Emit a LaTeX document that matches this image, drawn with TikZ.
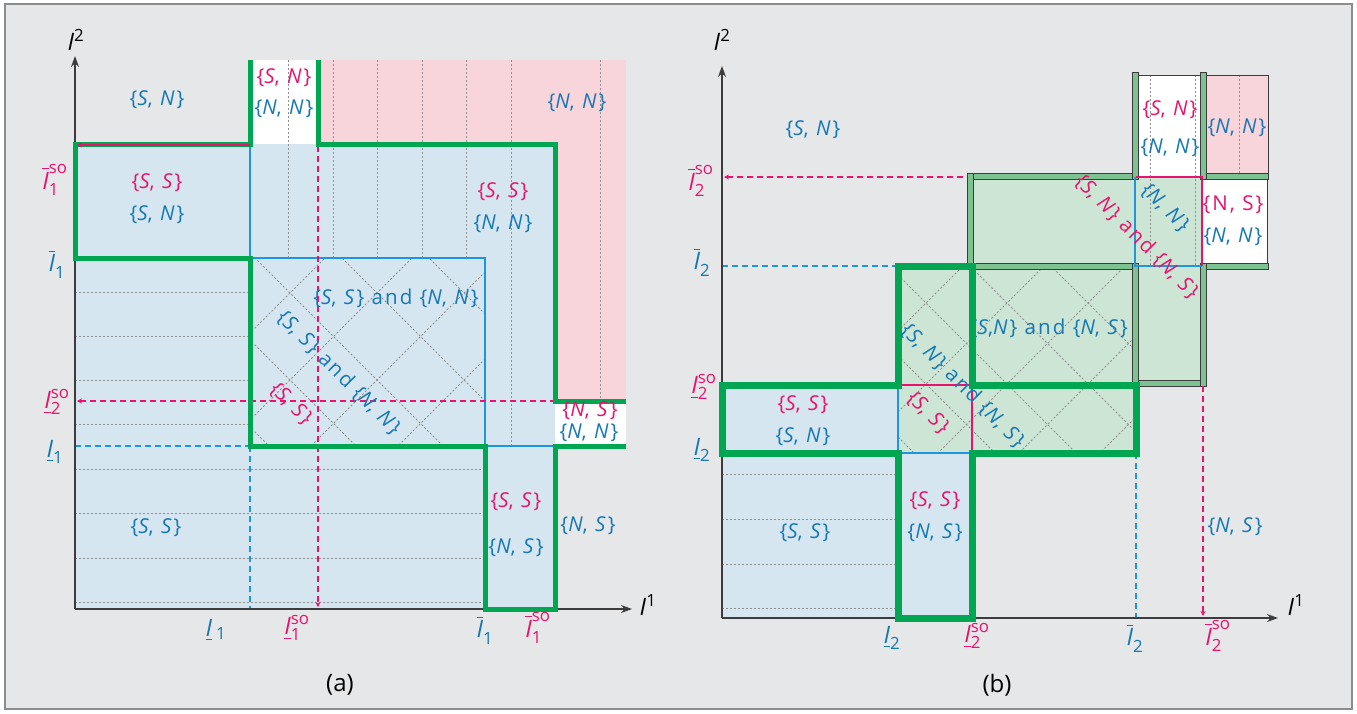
\documentclass[tikz,border=0pt]{standalone}
\usepackage{fontspec}
\usepackage{amsmath}
\setmainfont{Open Sans}
\newfontfamily\tfam[LetterSpace=10]{Open Sans}
\usetikzlibrary{arrows.meta}
\definecolor{bggray}{HTML}{E6E7E9}
\definecolor{framegray}{HTML}{8A8C8E}
\definecolor{lblue}{HTML}{D6E6F0}
\definecolor{lpink}{HTML}{F8D4DB}
\definecolor{lgreen}{HTML}{CCE5D4}
\definecolor{wallg}{HTML}{7DC391}
\definecolor{gthk}{HTML}{00A651}
\definecolor{lineb}{HTML}{1E96DC}
\definecolor{tblue}{HTML}{1478B4}
\definecolor{tpink}{HTML}{E6146E}
\definecolor{dgray}{HTML}{3C3C3C}
\definecolor{dotc}{HTML}{8F8F8F}
\newcommand{\pr}[2]{\{\textit{#1}, \textit{#2}\}}
\newcommand{\Iob}[2]{$\overline{\text{\itshape I}}^{\text{#2}}_{\text{#1}}$}
\newcommand{\Iub}[2]{$\underline{\text{\itshape I}}^{\text{#2}}_{\text{#1}}$}
\newcommand{\tfnt}{\tfam\fontsize{20.5}{22}\selectfont}
\newcommand{\lfnt}{\fontsize{24}{26}\selectfont}
\tikzset{
 dotg/.style={dotc, line width=0.9pt, dash pattern=on 2pt off 2pt},
 bline/.style={lineb, line width=2pt},
 pline/.style={tpink, line width=2.5pt},
 bdash/.style={lineb, line width=2.5pt, dash pattern=on 6pt off 4pt},
 pdash/.style={tpink, line width=2.5pt, dash pattern=on 6pt off 4pt},
 parrs/.style={arrows={Stealth[length=5pt,width=5pt]-}},
 parre/.style={arrows={-Stealth[length=5pt,width=5pt]}},
 gthick/.style={gthk, line width=5pt, line join=miter},
 gthickb/.style={gthk, line width=7pt, line join=miter},
 axisl/.style={dgray, line width=1.5pt, -{Stealth[length=11pt,width=8pt]}},
 wall/.style={fill=wallg, draw=dgray, line width=1pt},
 tb/.style={text=tblue, font=\tfnt, inner sep=0pt},
 tp/.style={text=tpink, font=\tfnt, inner sep=0pt},
 lb/.style={text=tblue, font=\lfnt, inner sep=0pt},
 lp/.style={text=tpink, font=\lfnt, inner sep=0pt},
 lk/.style={text=black, font=\lfnt, inner sep=0pt},
}
\begin{document}
\begin{tikzpicture}[x=1pt,y=-1pt]
\useasboundingbox (0,0) rectangle (1357,713);
\fill[white] (0,0) rectangle (1357,713);
\draw[framegray, fill=bggray, line width=1.5pt] (5,4) rectangle (1352,709);

% ================= panel (a) =================
\fill[lblue] (75,144) rectangle (555,609);
\fill[white] (250,60) rectangle (318,144);
\fill[lpink] (318,60) rectangle (626,144);
\fill[lpink] (555,144) rectangle (626,401);
\fill[white] (555,401) rectangle (626,446);

\foreach \x in {288,333,377,422,466} \draw[dotg] (\x,60) -- (\x,258);
\draw[dotg] (511,60) -- (511,446);
\draw[dotg] (600,60) -- (600,401);
\foreach \y in {292,336,380,424} \draw[dotg] (75,\y) -- (250,\y);
\foreach \y in {469,513,558,602} \draw[dotg] (75,\y) -- (485,\y);
\begin{scope}
\clip (250,258) rectangle (485,446);
\foreach \d in {-264,-177,-90,-3,84,171,258} \draw[dotg] (150,{150-(\d)}) -- (600,{600-(\d)});
\foreach \e in {496,583,670,757,844,931} \draw[dotg] (150,{\e-150}) -- (600,{\e-600});
\end{scope}

\draw[bline] (250,144) -- (250,258);
\draw[bline] (250,258) -- (485,258) -- (485,446) -- (555,446);
\draw[bdash] (75,446) -- (250,446);
\draw[bdash] (250,446) -- (250,609);
\draw[pdash, parre] (318,146) -- (318,607);
\draw[pdash, parrs] (77,401) -- (555,401);

\draw[axisl] (75,609) -- (75,56);
\draw[axisl] (75,609) -- (632,609);

\draw[gthick] (250,60) -- (250,144) -- (75,144) -- (75,258) -- (250,258) -- (250,446) -- (485,446) -- (485,609) -- (555,609) -- (555,446) -- (626,446);
\draw[gthick] (318,60) -- (318,144) -- (555,144) -- (555,401) -- (626,401);
\draw[pline, parrs] (77,145) -- (250,145);

\node[tb] (a1) at (157,100) {\pr{S}{N}};
\node[tp] (a2) at (284,78) {\pr{S}{N}};
\node[tb] (a3) at (284,109) {\pr{N}{N}};
\node[tb] (a4) at (577,103) {\pr{N}{N}};
\node[tp] (a5) at (157,183) {\pr{S}{S}};
\node[tb] (a6) at (157,215) {\pr{S}{N}};
\node[tp] (a7) at (503,192) {\pr{S}{S}};
\node[tb] (a8) at (503,224) {\pr{N}{N}};
\node[tb] (a9) at (396,298) {\pr{S}{S} and \pr{N}{N}};
\node[tb, rotate=-45] (a10) at (339,373) {\pr{S}{S} and \pr{N}{N}};
\node[tp, rotate=-45] (a11) at (291,404) {\pr{S}{S}};
\node[tp] (a12) at (590,411) {\pr{N}{S}};
\node[tb] (a13) at (589,433) {\pr{N}{N}};
\node[tb] (a14) at (156,528) {\pr{S}{S}};
\node[tp] (a15) at (516,502) {\pr{S}{S}};
\node[tb] (a16) at (516,548) {\pr{N}{S}};
\node[tb] (a17) at (588,526) {\pr{N}{S}};

\node[lk] (ay) at (76,40) {\textit{I}$^{\text{2}}$};
\node[lk] (ax) at (648,605) {\textit{I}$^{\text{1}}$};
\node[lp] (al1) at (55,180) {\Iob{1}{so}};
\node[lb] (al2) at (57,264) {\Iob{1}{}};
\node[lp] (al3) at (57,402) {\Iub{2}{so}};
\node[lb] (al4) at (55,452) {\Iub{1}{}};
\node[lb] (ab1) at (216,630) {$\underline{\text{\itshape I}}$\,$_{\text{1}}$};
\node[lp] (ab2) at (297,628) {\Iub{1}{so}};
\node[lb] (ab3) at (485,630) {\Iob{1}{}};
\node[lp] (ab4) at (538,628) {\Iob{1}{so}};
\node[lk] (capa) at (340,685) {(a)};

% ================= panel (b) =================
\fill[lblue] (722,385) rectangle (898,618);
\fill[lblue] (898,453) rectangle (972,618);
\fill[lgreen] (898,266) rectangle (1136,453);
\fill[lgreen] (967,176) rectangle (1206,385);
\fill[white] (1135,75) rectangle (1203,176);
\fill[lpink] (1203,75) rectangle (1268,176);
\fill[white] (1203,176) rectangle (1267,266);

\foreach \x in {1150,1195} \draw[dotg] (\x,75) -- (\x,266);
\draw[dotg] (1239,75) -- (1239,176);
\foreach \y in {474,519,564,608} \draw[dotg] (722,\y) -- (898,\y);
\begin{scope}
\clip (898,266) rectangle (1136,453);
\foreach \d in {380,461,542,623,704,785,866,947} \draw[dotg] (850,{850-(\d)}) -- (1200,{1200-(\d)});
\foreach \e in {1148,1229,1310,1391,1472,1553,1634} \draw[dotg] (850,{\e-850}) -- (1200,{\e-1200});
\end{scope}

\draw[dgray, line width=1pt] (1135,75) -- (1268,75) -- (1268,176);
\draw[dgray, line width=1pt] (1267,176) -- (1267,266);
\draw[wall] (967,173) rectangle (1135,179);
\draw[wall] (967,263) rectangle (1135,269);
\draw[wall] (967,173) rectangle (973,266);
\draw[wall] (1200,173) rectangle (1268,179);
\draw[wall] (1200,263) rectangle (1268,269);
\draw[wall] (1132,380) rectangle (1206,386);
\draw[wall] (1132,72) rectangle (1138,179);
\draw[wall] (1200,72) rectangle (1206,179);
\draw[wall] (1132,263) rectangle (1138,386);
\draw[wall] (1200,263) rectangle (1206,386);
\fill[wallg] (1133,381) rectangle (1137,385);
\fill[wallg] (1201,381) rectangle (1205,385);

\draw[bline] (1135,177) -- (1135,266) -- (1202,266);
\draw[pline] (1136,177) -- (1202,177) -- (1202,266);
\draw[bline] (898,385) -- (898,453) -- (972,453);
\draw[pline] (898,385) -- (972,385) -- (972,453);

\draw[pdash, parrs] (724,177) -- (967,177);
\draw[bdash] (722,266) -- (898,266);
\draw[bdash] (1136,453) -- (1136,618);
\draw[pdash, parre] (1203,386) -- (1203,616);

\draw[axisl] (722,618) -- (722,66);
\draw[axisl] (722,618) -- (1278,618);

\node[tb, anchor=east] (b9) at (1128,328) {\{\textit{S},\textit{N}\} and \pr{N}{S}};

\draw[gthickb] (898,266) -- (972,266) -- (972,385) -- (1136,385) -- (1136,453) -- (972,453) -- (972,618) -- (898,618) -- (898,453) -- (722,453) -- (722,385) -- (898,385) -- cycle;

\node[tb] (b1) at (813,130) {\pr{S}{N}};
\node[tp] (b2) at (1170,110) {\pr{S}{N}};
\node[tb] (b3) at (1170,148) {\pr{N}{N}};
\node[tb] (b4) at (1237,128) {\pr{N}{N}};
\node[tp, rotate=-45] (b5) at (1137,237) {\pr{S}{N} and \pr{N}{S}};
\node[tb, rotate=-45] (b6) at (1165,208) {\pr{N}{N}};
\node[tp] (b7) at (1233,205) {\{N, S\}};
\node[tb] (b8) at (1233,237) {\pr{N}{N}};
\node[tb, rotate=-45] (b10) at (963,386) {\pr{S}{N} and \pr{N}{S}};
\node[tp, rotate=-45] (b11) at (928,413) {\pr{S}{S}};
\node[tp] (b12) at (803,405) {\pr{S}{S}};
\node[tb] (b13) at (803,437) {\pr{S}{N}};
\node[tb] (b14) at (805,533) {\pr{S}{S}};
\node[tp] (b15) at (935,501) {\pr{S}{S}};
\node[tb] (b16) at (935,533) {\pr{N}{S}};
\node[tb] (b17) at (1235,527) {\pr{N}{S}};

\node[lk] (by) at (722,40) {\textit{I}$^{\text{2}}$};
\node[lk] (bx) at (1296,605) {\textit{I}$^{\text{1}}$};
\node[lp] (bl1) at (701,181) {\Iob{2}{so}};
\node[lb] (bl2) at (702,262) {\Iob{2}{}};
\node[lp] (bl3) at (704,387) {\Iub{2}{so}};
\node[lb] (bl4) at (702,450) {\Iub{2}{}};
\node[lb] (bb1) at (892,638) {\Iub{2}{}};
\node[lp] (bb2) at (977,636) {\Iub{2}{so}};
\node[lb] (bb3) at (1135,638) {\Iob{2}{}};
\node[lp] (bb4) at (1218,636) {\Iob{2}{so}};
\node[lk] (capb) at (997,685) {(b)};
\end{tikzpicture}
\end{document}
